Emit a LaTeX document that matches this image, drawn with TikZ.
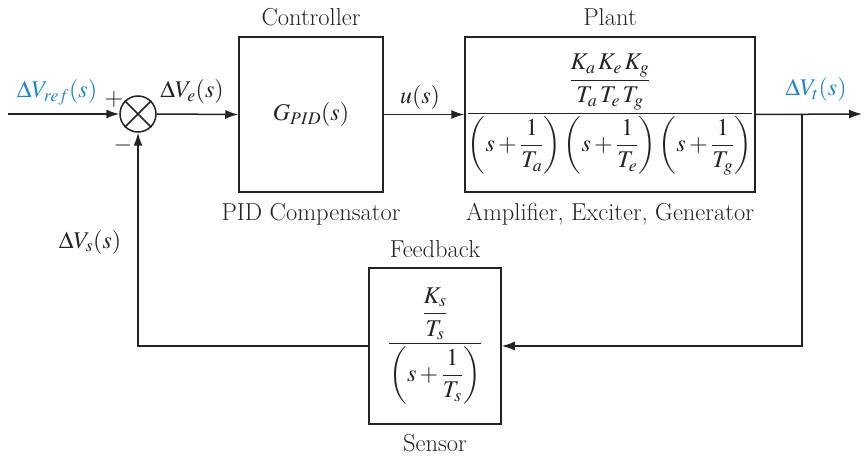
\documentclass[tikz,border=0pt]{standalone}
\usepackage{amsmath}
\usepackage{mathptmx}
\usetikzlibrary{arrows.meta}
\definecolor{sigblue}{RGB}{30,136,200}
\definecolor{ink}{RGB}{35,35,35}
\begin{document}
\begin{tikzpicture}[x=1pt,y=-1pt,
  every node/.style={font=\fontsize{24}{28}\selectfont, inner sep=0pt, text=ink},
  wire/.style={line width=1.5pt, draw=ink},
  sig/.style={wire, -{Latex[length=13pt,width=9pt]}},
  block/.style={draw=ink, line width=1.5pt, rectangle},
  lbl/.style={anchor=base},
  txt/.style={anchor=base, font=\fontsize{24.5}{28}\selectfont},
  bluelbl/.style={anchor=base, text=sigblue}
]
\fill[white] (0,0) rectangle (865,457);
\useasboundingbox (0,0) rectangle (865,457);

% blocks
\node[draw=ink, line width=1.5pt, circle, minimum size=36pt] (sum) at (138,114) {};
\draw[wire] (sum.north west) -- (sum.south east);
\draw[wire] (sum.north east) -- (sum.south west);

\node[block, minimum width=144pt, minimum height=155pt] (ctrl) at (311,114.5) {$G_{PID}(s)$};
\node[block, minimum width=290pt, minimum height=155pt] (plant) at (610,114.5)
  {$\dfrac{\dfrac{K_a\,K_e\,K_g}{T_a\,T_e\,T_g}}{\left(s+\dfrac{1}{T_a}\right)\left(s+\dfrac{1}{T_e}\right)\left(s+\dfrac{1}{T_g}\right)}$};
\node[block, minimum width=132pt, minimum height=156pt] (fb) at (435,346)
  {$\dfrac{\dfrac{K_s}{T_s}}{\left(s+\dfrac{1}{T_s}\right)}$};

% coordinates
\coordinate (in) at (8,114);
\coordinate (out) at (862,114);
\coordinate (branch) at (802,114);

% connectors
\draw[sig] (in) -- (sum.west);
\draw[sig] (sum.east) -- (ctrl.west);
\draw[sig] (ctrl.east) -- (plant.west);
\draw[sig] (plant.east) -- (out);
\draw[sig] (branch) |- (fb.east);
\draw[sig] (fb.west) -| (sum.south);

% labels
\node[txt] (lctrl) at (311,26) {Controller};
\node[txt] (lplant) at (610,26) {Plant};
\node[txt] (lpid) at (311,221) {PID Compensator};
\node[txt] (lamp) at (610,221) {Amplifier, Exciter, Generator};
\node[txt] (lfb) at (435,258) {Feedback};
\node[txt] (lsens) at (435,451) {Sensor};

\node[bluelbl] (vref) at (57,98) {$\Delta V_{ref}(s)$};
\node[lbl] (plus) at (114,106) {$+$};
\node[lbl] (minus) at (123,152) {$-$};
\node[lbl] (ve) at (192,98) {$\Delta V_e(s)$};
\node[lbl] (us) at (420,104) {$u(s)$};
\node[bluelbl] (vt) at (816,96) {$\Delta V_t(s)$};
\node[lbl] (vs) at (90,248) {$\Delta V_s(s)$};
\end{tikzpicture}
\end{document}
